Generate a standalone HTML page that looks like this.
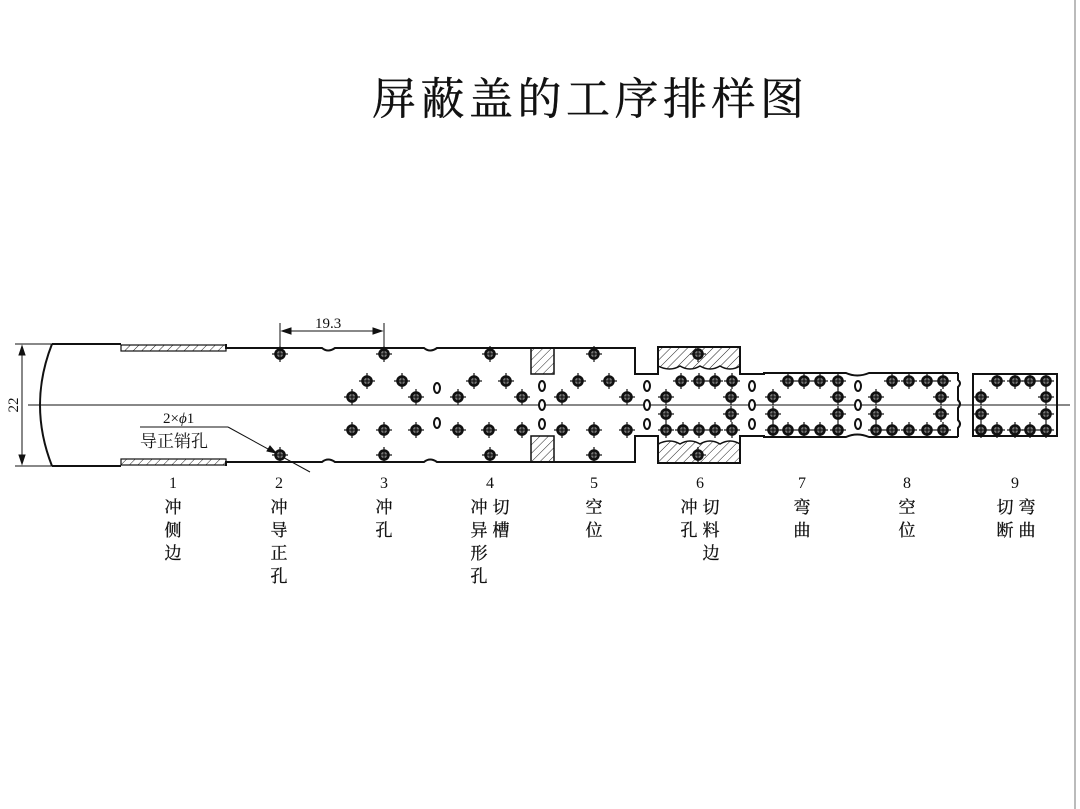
<!DOCTYPE html>
<html><head><meta charset="utf-8"><style>
html,body{margin:0;padding:0;background:#fff;}
body{width:1080px;height:809px;overflow:hidden;position:relative;}
svg{position:absolute;left:0;top:0;}
text{font-family:"Liberation Serif","Noto Serif CJK SC",serif;fill:#111;}
</style></head><body>
<svg width="1080" height="809" viewBox="0 0 1080 809">
<defs>
<pattern id="h" patternUnits="userSpaceOnUse" width="6" height="6" patternTransform="rotate(45)">
<line x1="0" y1="0" x2="0" y2="6" stroke="#222" stroke-width="1"/></pattern>
<g id="c"><circle r="4.5" fill="#777" stroke="#111" stroke-width="2.6"/><line x1="-8" y1="0" x2="8" y2="0" stroke="#111" stroke-width="1.2"/><line x1="0" y1="-8" x2="0" y2="8" stroke="#111" stroke-width="1.2"/></g>
<g id="o"><ellipse rx="3" ry="5" fill="#fff" stroke="#111" stroke-width="2"/></g>
</defs>
<line x1="1075" y1="0" x2="1075" y2="809" stroke="#bbb" stroke-width="2"/>
<text x="588" y="114" font-size="44" text-anchor="middle" stroke="#111" stroke-width="0.4" textLength="432">屏蔽盖的工序排样图</text>

<rect x="531" y="348" width="23" height="26" fill="url(#h)" stroke="#111" stroke-width="1.5"/>
<rect x="531" y="436" width="23" height="26" fill="url(#h)" stroke="#111" stroke-width="1.5"/>
<path d="M658 347 H740 V366 Q730 372 720 366 Q710 372 700 366 Q690 372 680 366 Q670 372 658 366 Z" fill="url(#h)" stroke="#111" stroke-width="1.5"/>
<path d="M658 463 H740 V444 Q730 438 720 444 Q710 438 700 444 Q690 438 680 444 Q670 438 658 444 Z" fill="url(#h)" stroke="#111" stroke-width="1.5"/>
<rect x="121" y="345" width="105" height="6" fill="url(#h)" stroke="#111" stroke-width="1.2"/>
<rect x="121" y="459" width="105" height="6" fill="url(#h)" stroke="#111" stroke-width="1.2"/>

<g fill="none" stroke="#111" stroke-width="2">
<path d="M52 344 H121 M52 466 H121"/>
<path d="M52 344 Q28 405 52 466"/>
<path d="M226 344 V348 H322 Q328 353 335 348 H424 Q430 353 437 348 H635 V374 H658 V347 H740 V374 H764 V373 H846 Q857 378 869 373 H958"/>
<path d="M226 466 V462 H322 Q328 457 335 462 H424 Q430 457 437 462 H635 V436 H658 V463 H740 V436 H764 V437 H846 Q857 432 869 437 H958"/>
<path d="M958 373 V380 Q962 383 958 387 V400 Q962 404 958 408 V420 Q962 424 958 428 V437"/>
<rect x="973" y="374" width="84" height="62"/>
</g>
<line x1="28" y1="405" x2="1070" y2="405" stroke="#111" stroke-width="1"/>

<g stroke="#111" stroke-width="1" fill="#111">
<line x1="280" y1="323" x2="280" y2="352"/><line x1="384" y1="323" x2="384" y2="352"/>
<line x1="282" y1="331" x2="382" y2="331"/>
<path d="M282 331 l9 -3 v6z M382 331 l-9 -3 v6z"/>
<line x1="15" y1="344" x2="52" y2="344"/><line x1="15" y1="466" x2="52" y2="466"/>
<line x1="22" y1="346" x2="22" y2="464"/>
<path d="M22 346 l-3 9 h6z M22 464 l-3 -9 h6z"/>
<line x1="140" y1="427" x2="228" y2="427"/>
<line x1="228" y1="427" x2="310" y2="472"/>
<path d="M276 453 l-9 -2 l3 -5z"/>
</g>
<text x="315" y="328" font-size="15">19.3</text>
<text x="18" y="405" font-size="15" transform="rotate(-90 18 405)" text-anchor="middle">22</text>
<text x="163" y="423" font-size="15">2×<tspan font-style="italic">ϕ</tspan>1</text>
<text x="140" y="447" font-size="17" font-family="'Noto Sans CJK SC',sans-serif">导正销孔</text>

<g>
<use href="#c" x="280" y="354"/><use href="#c" x="384" y="354"/><use href="#c" x="490" y="354"/><use href="#c" x="594" y="354"/><use href="#c" x="698" y="354"/>
<use href="#c" x="280" y="455"/><use href="#c" x="384" y="455"/><use href="#c" x="490" y="455"/><use href="#c" x="594" y="455"/><use href="#c" x="698" y="455"/>
<use href="#c" x="367" y="381"/><use href="#c" x="402" y="381"/><use href="#c" x="474" y="381"/><use href="#c" x="506" y="381"/><use href="#c" x="578" y="381"/><use href="#c" x="609" y="381"/>
<use href="#c" x="681" y="381"/><use href="#c" x="699" y="381"/><use href="#c" x="715" y="381"/><use href="#c" x="732" y="381"/>
<use href="#c" x="788" y="381"/><use href="#c" x="804" y="381"/><use href="#c" x="820" y="381"/><use href="#c" x="838" y="381"/>
<use href="#c" x="892" y="381"/><use href="#c" x="909" y="381"/><use href="#c" x="927" y="381"/><use href="#c" x="943" y="381"/>
<use href="#c" x="997" y="381"/><use href="#c" x="1015" y="381"/><use href="#c" x="1030" y="381"/><use href="#c" x="1046" y="381"/>
<use href="#c" x="352" y="397"/><use href="#c" x="416" y="397"/><use href="#c" x="458" y="397"/><use href="#c" x="522" y="397"/><use href="#c" x="562" y="397"/><use href="#c" x="627" y="397"/>
<use href="#c" x="666" y="397"/><use href="#c" x="731" y="397"/><use href="#c" x="773" y="397"/><use href="#c" x="838" y="397"/><use href="#c" x="876" y="397"/><use href="#c" x="941" y="397"/><use href="#c" x="981" y="397"/><use href="#c" x="1046" y="397"/>
<use href="#c" x="666" y="414"/><use href="#c" x="731" y="414"/><use href="#c" x="773" y="414"/><use href="#c" x="838" y="414"/><use href="#c" x="876" y="414"/><use href="#c" x="941" y="414"/><use href="#c" x="981" y="414"/><use href="#c" x="1046" y="414"/>
<use href="#c" x="352" y="430"/><use href="#c" x="384" y="430"/><use href="#c" x="416" y="430"/><use href="#c" x="458" y="430"/><use href="#c" x="489" y="430"/><use href="#c" x="522" y="430"/>
<use href="#c" x="562" y="430"/><use href="#c" x="594" y="430"/><use href="#c" x="627" y="430"/>
<use href="#c" x="666" y="430"/><use href="#c" x="683" y="430"/><use href="#c" x="699" y="430"/><use href="#c" x="715" y="430"/><use href="#c" x="732" y="430"/>
<use href="#c" x="773" y="430"/><use href="#c" x="788" y="430"/><use href="#c" x="804" y="430"/><use href="#c" x="820" y="430"/><use href="#c" x="838" y="430"/>
<use href="#c" x="876" y="430"/><use href="#c" x="892" y="430"/><use href="#c" x="909" y="430"/><use href="#c" x="927" y="430"/><use href="#c" x="943" y="430"/>
<use href="#c" x="981" y="430"/><use href="#c" x="997" y="430"/><use href="#c" x="1015" y="430"/><use href="#c" x="1030" y="430"/><use href="#c" x="1046" y="430"/>
<use href="#o" x="437" y="388"/><use href="#o" x="437" y="423"/>
<use href="#o" x="542" y="386"/><use href="#o" x="542" y="405"/><use href="#o" x="542" y="424"/>
<use href="#o" x="647" y="386"/><use href="#o" x="647" y="405"/><use href="#o" x="647" y="424"/>
<use href="#o" x="752" y="386"/><use href="#o" x="752" y="405"/><use href="#o" x="752" y="424"/>
<use href="#o" x="858" y="386"/><use href="#o" x="858" y="405"/><use href="#o" x="858" y="424"/>
</g>

<g font-size="16" text-anchor="middle">
<text x="173" y="488">1</text><text x="279" y="488">2</text><text x="384" y="488">3</text><text x="490" y="488">4</text><text x="594" y="488">5</text><text x="700" y="488">6</text><text x="802" y="488">7</text><text x="907" y="488">8</text><text x="1015" y="488">9</text>
</g>
<g font-size="17" text-anchor="middle" stroke="#111" stroke-width="0.3">
<text x="173" y="513">冲</text><text x="173" y="536">侧</text><text x="173" y="559">边</text>
<text x="279" y="513">冲</text><text x="279" y="536">导</text><text x="279" y="559">正</text><text x="279" y="582">孔</text>
<text x="384" y="513">冲</text><text x="384" y="536">孔</text>
<text x="479" y="513">冲</text><text x="479" y="536">异</text><text x="479" y="559">形</text><text x="479" y="582">孔</text>
<text x="501" y="513">切</text><text x="501" y="536">槽</text>
<text x="594" y="513">空</text><text x="594" y="536">位</text>
<text x="689" y="513">冲</text><text x="689" y="536">孔</text>
<text x="711" y="513">切</text><text x="711" y="536">料</text><text x="711" y="559">边</text>
<text x="802" y="513">弯</text><text x="802" y="536">曲</text>
<text x="907" y="513">空</text><text x="907" y="536">位</text>
<text x="1005" y="513">切</text><text x="1005" y="536">断</text>
<text x="1027" y="513">弯</text><text x="1027" y="536">曲</text>
</g>
</svg>
</body></html>
